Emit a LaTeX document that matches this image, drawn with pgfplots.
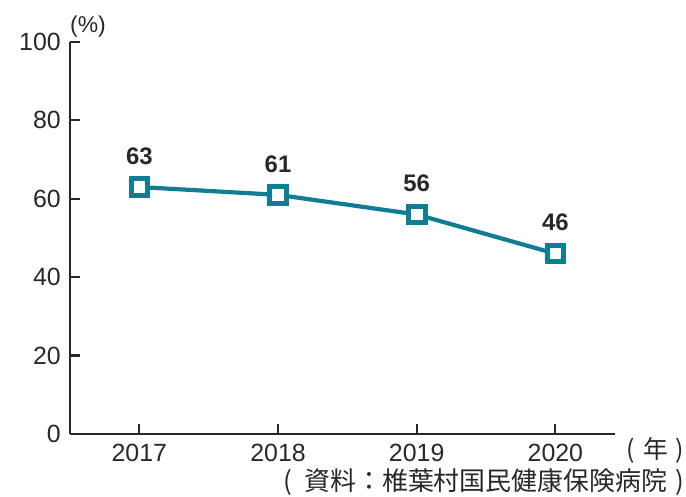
\documentclass[border=0pt]{standalone}
\usepackage{pgfplots}
\pgfplotsset{compat=1.18}
\usepackage{fontspec}
\setmainfont{Liberation Sans}
\newfontfamily\cjk{Noto Sans CJK JP}
\definecolor{teal1}{RGB}{16,125,148}
\definecolor{txt}{RGB}{40,40,40}
\begin{document}
\begin{tikzpicture}[x=1bp,y=1bp]
\useasboundingbox (0,0) rectangle (686,497);
\begin{axis}[
  at={(70bp,63bp)}, anchor=south west,
  scale only axis, width=545bp, height=392bp,
  xmin=-0.5, xmax=3.43, ymin=0, ymax=100,
  axis x line*=bottom, axis y line*=left,
  axis line style={line width=2.4bp, color=txt},
  xtick={0,1,2,3}, xticklabels={2017,2018,2019,2020},
  ytick={0,20,40,60,80,100},
  tick align=inside, major tick length=10bp,
  tick style={line width=2.2bp, color=txt},
  /pgf/number format/assume math mode=true,
  ticklabel style={font=\fontsize{25}{28}\selectfont, text=txt, inner sep=0pt},
  yticklabel style={xshift=-9bp},
  xticklabel style={yshift=-10bp},
  clip=false,
  nodes near coords,
  nodes near coords style={anchor=south, inner sep=0pt, yshift=20bp,
    font=\fontsize{24}{26}\selectfont\bfseries, text=txt},
]
\addplot[color=teal1, line width=4.2bp, mark=square*,
  mark options={fill=white, draw=teal1, line width=5bp},
  mark size=8.3bp] coordinates {(0,63) (1,61) (2,56) (3,46)};
\end{axis}
\node[font=\fontsize{23}{25}\selectfont, text=txt] at (88,470) {(\%)};
\node[font=\cjk\fontsize{25}{27}\selectfont, text=txt, anchor=east, inner sep=0pt] at (684,47) {(\hspace{9bp}年\hspace{7bp})};
\node[font=\cjk\fontsize{26}{28}\selectfont, text=txt, anchor=east, inner sep=0pt] at (684,15) {(\hspace{12bp}資料：椎葉村国民健康保険病院\hspace{8bp})};
\end{tikzpicture}
\end{document}
